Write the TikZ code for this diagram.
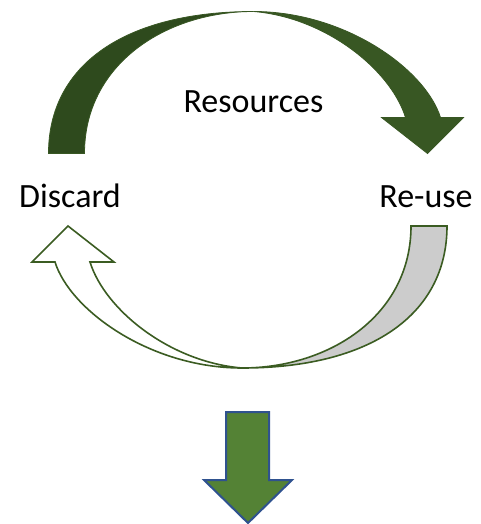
\documentclass[tikz,border=0pt]{standalone}
\usepackage{fontspec}
\setmainfont{Carlito}
\definecolor{topback}{HTML}{2E4A1D}
\definecolor{topfront}{HTML}{385723}
\definecolor{lineGreen}{HTML}{3B5C22}
\definecolor{backGray}{HTML}{CCCCCC}
\definecolor{arrowGreen}{HTML}{548235}
\definecolor{arrowBlue}{HTML}{2F528F}
\tikzset{
  lbl/.style={inner sep=0pt, anchor=base, font=\fontsize{34}{40}\selectfont},
}
\newcommand{\backband}{(411,226) -- (447,226) .. controls (447,315) and (370,368) .. (242,368) .. controls (330,368) and (411,315) .. (411,226) -- cycle}
\newcommand{\frontband}{(242,368) .. controls (150,368) and (70,310) .. (55,262) -- (32,262) -- (68,226) -- (114,262) -- (90,262) .. controls (105,310) and (170,362) .. (242,368) -- cycle}
\begin{document}
\begin{tikzpicture}[x=1pt,y=-1pt]
\useasboundingbox (0,0) rectangle (480,524);
% top curved arrow (rotated copy of the lower one)
\begin{scope}[shift={(256,82.5)}, rotate=180, shift={(-239.5,-297)}]
  \fill[topback, draw=topfront, line width=0.8pt] \backband;
  \fill[topfront, draw=topfront, line width=0.8pt] \frontband;
\end{scope}
% lower curved arrow
\filldraw[fill=backGray, draw=lineGreen, line width=1.6pt] \backband;
\filldraw[fill=white, draw=lineGreen, line width=1.6pt] \frontband;
% down arrow
\filldraw[fill=arrowGreen, draw=arrowBlue, line width=2pt]
  (226,412) -- (269,412) -- (269,480) -- (292,480) -- (248,523) -- (204,480) -- (226,480) -- cycle;
% labels
\node[lbl] (res) at (253.5,113) {Resources};
\node[lbl] (disc) at (70,207) {Discard};
\node[lbl] (reuse) at (426,207) {Re-use};
\end{tikzpicture}
\end{document}
